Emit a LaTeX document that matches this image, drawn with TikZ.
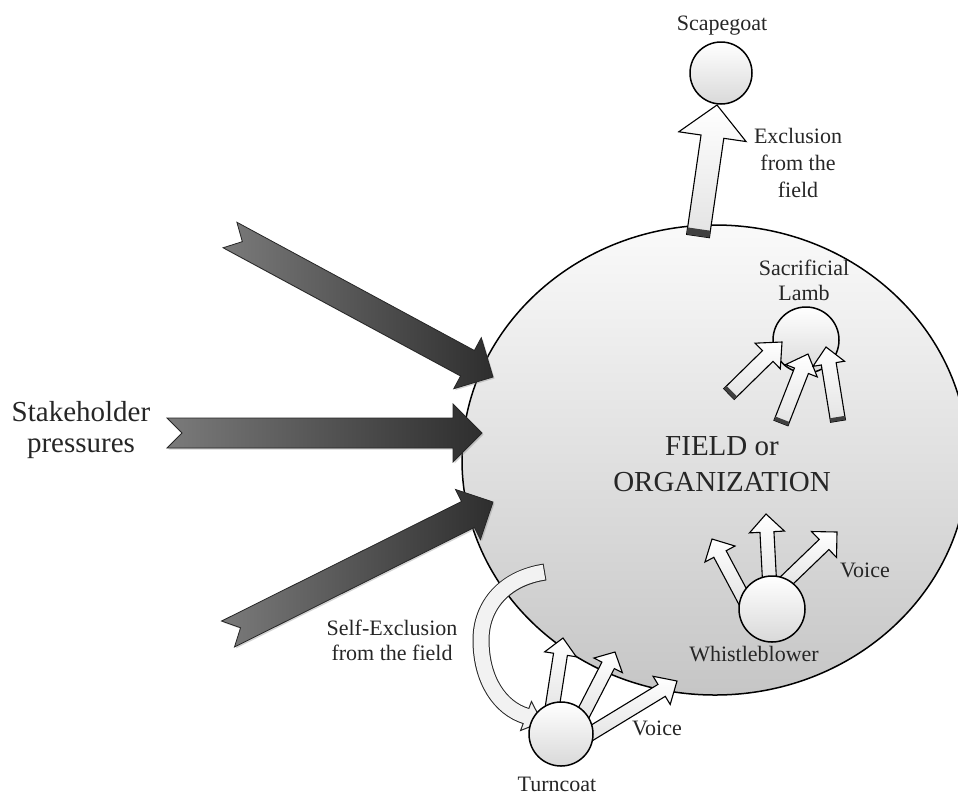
\documentclass[tikz,border=0pt]{standalone}
\usepackage{fontspec}
\setmainfont{Liberation Serif}
\usetikzlibrary{calc,shapes.geometric,shadows}

% [style]{tail}{tip}{half shaft}{half head}{head length}{notch}
\newcommand{\blockarrow}[7][]{%
  \coordinate (ba-hb) at ($(#3)!#6!(#2)$);
  \coordinate (ba-nt) at ($(#2)!#7!(#3)$);
  \path[#1] ($(#2)!#4!90:(#3)$) -- ($(ba-hb)!#4!90:(#3)$) -- ($(ba-hb)!#5!90:(#3)$)
    -- (#3) -- ($(ba-hb)!#5!-90:(#3)$) -- ($(ba-hb)!#4!-90:(#3)$)
    -- ($(#2)!#4!-90:(#3)$) -- (ba-nt) -- cycle;
}
% {tail}{tip}{half shaft}{length}
\newcommand{\tailband}[4]{%
  \coordinate (tb-e) at ($(#1)!#4!(#2)$);
  \fill[black!75] ($(#1)!#3!90:(#2)$) -- ($(tb-e)!#3!90:(#2)$)
    -- ($(tb-e)!#3!-90:(#2)$) -- ($(#1)!#3!-90:(#2)$) -- cycle;
}

\begin{document}
\begin{tikzpicture}[x=1pt,y=-1pt,
  fieldshape/.style={ellipse, draw=black, line width=1.5pt, minimum width=506pt,
    minimum height=470pt, inner sep=0pt, top color=gray!4, bottom color=gray!45},
  ball/.style={circle, draw=black, line width=1.5pt, inner sep=0pt,
    top color=white, bottom color=gray!30},
  darkarrow/.style={draw=black!85, line width=0.8pt, left color=black!52,
    right color=black!82,
    drop shadow={opacity=0.35, shadow xshift=1.5pt, shadow yshift=-1.5pt}},
  lightarrow/.style={draw=black, line width=1.1pt, top color=white, bottom color=gray!22},
  smalltext/.style={font=\fontsize{22}{26}\selectfont, text=black!85, align=center, inner sep=0pt},
  bigtext/.style={font=\fontsize{29}{36}\selectfont, text=black!85, align=center, inner sep=0pt}
]
\useasboundingbox (0,0) rectangle (958,796);
\clip (0,0) rectangle (958,796);

% field
\node[fieldshape] (field) at (715,460) {};

% stakeholder pressures
\coordinate (sa1) at (230,235); \coordinate (sb1) at (493,377);
\coordinate (sa2) at (167,433); \coordinate (sb2) at (482,433);
\coordinate (sa3) at (228,634); \coordinate (sb3) at (493,502);
\blockarrow[darkarrow]{sa1}{sb1}{14.5pt}{29pt}{29pt}{14pt}
\blockarrow[darkarrow]{sa2}{sb2}{15pt}{29pt}{29pt}{15pt}
\blockarrow[darkarrow]{sa3}{sb3}{14.5pt}{28pt}{28pt}{14pt}
\node[bigtext, font=\fontsize{29}{31}\selectfont] (stake) at (81,430) {Stakeholder\\pressures};

% scapegoat
\node[ball, minimum size=62pt] (scape) at (721,73) {};
\coordinate (ex0) at (698,236); \coordinate (ex1) at (717,105);
\blockarrow[lightarrow]{ex0}{ex1}{11.5pt}{34pt}{32pt}{0pt}
\tailband{ex0}{ex1}{11.5pt}{7pt}
\node[smalltext, anchor=base] (scapelbl) at (722,30) {Scapegoat};
\node[smalltext, font=\fontsize{22}{27}\selectfont] (exlbl) at (798,163) {Exclusion\\from the\\field};

% sacrificial lamb
\node[ball, minimum size=66pt] (lamb) at (806,340) {};
\coordinate (l1a) at (729,394); \coordinate (l1b) at (782,342);
\coordinate (l2a) at (781,423); \coordinate (l2b) at (808,354);
\coordinate (l3a) at (838,421); \coordinate (l3b) at (826,347);
\blockarrow[lightarrow]{l1a}{l1b}{7.5pt}{18pt}{20pt}{0pt}
\tailband{l1a}{l1b}{7.5pt}{4pt}
\blockarrow[lightarrow]{l2a}{l2b}{7.5pt}{17pt}{18pt}{0pt}
\tailband{l2a}{l2b}{7.5pt}{4pt}
\blockarrow[lightarrow]{l3a}{l3b}{7.5pt}{16pt}{17pt}{0pt}
\tailband{l3a}{l3b}{7.5pt}{4pt}
\node[smalltext, font=\fontsize{22}{25}\selectfont] (lamblbl) at (804,280) {Sacrificial\\Lamb};

% FIELD text
\node[bigtext] (fieldlbl) at (722,464) {FIELD or\\ORGANIZATION};

% whistleblower
\coordinate (w1a) at (745,601); \coordinate (w1b) at (712,539);
\coordinate (w2a) at (770,590); \coordinate (w2b) at (766,514);
\coordinate (w3a) at (783,584); \coordinate (w3b) at (837,532);
\blockarrow[lightarrow]{w1a}{w1b}{7pt}{17pt}{17pt}{0pt}
\blockarrow[lightarrow]{w2a}{w2b}{7pt}{17.5pt}{18pt}{0pt}
\blockarrow[lightarrow]{w3a}{w3b}{7pt}{18pt}{18pt}{0pt}
\node[ball, minimum size=66pt] (whistle) at (772,609) {};
\node[smalltext] (wvoice) at (865,570) {Voice};
\node[smalltext, anchor=base] (wlbl) at (754,661) {Whistleblower};

% self-exclusion band
\coordinate (se0) at (545,572);
\coordinate (se1) at (481,640);
\coordinate (se2) at (526,716);
\coordinate (se3) at (542,722);
\draw[line width=17pt, black!85] (se0) .. controls (505,578) and (481,605) .. (se1)
  .. controls (481,680) and (500,708) .. (se2);
\filldraw[fill=gray!10, draw=black!85, line width=1pt]
  ($(se2)!15.5pt!90:(se3)$) -- (se3) -- ($(se2)!15.5pt!-90:(se3)$) -- cycle;
\draw[line width=15pt, gray!10, shorten <=1pt] (se0) .. controls (505,578) and (481,605) .. (se1)
  .. controls (481,680) and (500,708) .. (se2) -- ($(se2)!2pt!(se3)$);
\node[smalltext, font=\fontsize{22}{25}\selectfont] (selflbl) at (392,640) {Self-Exclusion\\from the field};

% turncoat
\coordinate (t1a) at (551,715); \coordinate (t1b) at (563,638);
\coordinate (t2a) at (580,720); \coordinate (t2b) at (615,652);
\coordinate (t3a) at (585,737); \coordinate (t3b) at (677,681);
\blockarrow[lightarrow]{t1a}{t1b}{7pt}{16pt}{16.5pt}{0pt}
\blockarrow[lightarrow]{t2a}{t2b}{7pt}{16pt}{15pt}{0pt}
\blockarrow[lightarrow]{t3a}{t3b}{7pt}{16.5pt}{18pt}{0pt}
\node[ball, minimum size=64pt] (turn) at (561,734) {};
\node[smalltext] (tvoice) at (657,728) {Voice};
\node[smalltext, anchor=base] (tlbl) at (557,791) {Turncoat};
\end{tikzpicture}
\end{document}
